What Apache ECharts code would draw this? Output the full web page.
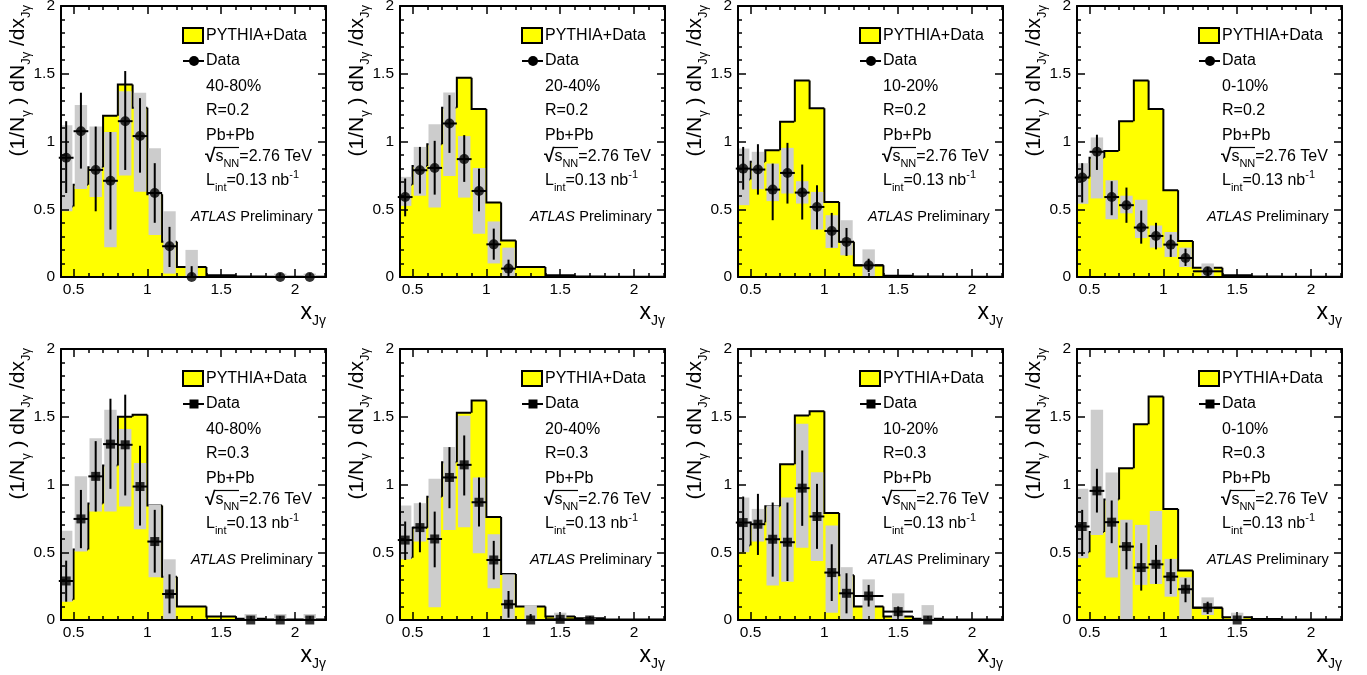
<!DOCTYPE html>
<html><head><meta charset="utf-8">
<script src="https://cdn.jsdelivr.net/npm/echarts@6/dist/echarts.min.js"></script>
<style>html,body{margin:0;padding:0;background:#fff}#c{width:1367px;height:675px}</style>
</head><body><div id="c"></div>
<script>
// ---------------- data ----------------
const edges = [0.4,0.5,0.6,0.7,0.8,0.9,1.0,1.1,1.2,1.4,1.6,1.8,2.0,2.2];
const xMajorTicks = [0.5,1,1.5,2];
const xMinorTicks = [0.5,0.6,0.7,0.8,0.9,1.0,1.1,1.2,1.3,1.4,1.5,1.6,1.7,1.8,1.9,2.0,2.1,2.2];
const centralities = ['40-80%','20-40%','10-20%','0-10%','40-80%','20-40%','10-20%','0-10%'];
const radii = ['0.2','0.2','0.2','0.2','0.3','0.3','0.3','0.3'];

// PYTHIA+Data histograms (per bin of edges)
const p1Hist = [0.52,0.68,0.81,1.19,1.42,1.25,0.61,0.26,0.074,0.012,0.004,0.002,0.002];
const p2Hist = [0.68,0.82,0.98,1.25,1.47,1.24,0.55,0.27,0.074,0.012,0.004,0.002,0.002];
const p3Hist = [0.72,0.85,0.935,1.145,1.45,1.245,0.554,0.26,0.086,0.01,0.004,0.002,0.002];
const p4Hist = [0.74,0.88,0.93,1.15,1.45,1.24,0.64,0.266,0.069,0.012,0.004,0.002,0.002];
const p5Hist = [0.15,0.52,0.86,1.14,1.50,1.515,0.845,0.32,0.10,0.025,0.01,0.004,0.004];
const p6Hist = [0.46,0.68,0.91,1.165,1.53,1.62,0.76,0.34,0.10,0.025,0.012,0.004,0.004];
const p7Hist = [0.55,0.72,0.84,1.15,1.51,1.54,0.79,0.33,0.10,0.025,0.01,0.004,0.004];
const p8Hist = [0.50,0.65,0.89,1.12,1.445,1.65,0.82,0.365,0.09,0.02,0.008,0.004,0.004];

// Data points
const p1X = [0.45,0.55,0.65,0.75,0.85,0.95,1.05,1.15,1.3,1.9,2.1];
const p1Y = [0.88,1.076,0.79,0.71,1.15,1.04,0.62,0.227,0,0,0];
const p1StatHi = [1.15,1.36,1.11,1.07,1.52,1.32,0.84,0.37,0.08,0,0];
const p1StatLo = [0.62,0.80,0.485,0.35,0.79,0.77,0.40,0.074,0,0,0];
const p1SysHi = [1.12,1.27,1.11,1.07,1.37,1.36,0.95,0.485,0.2,0.025,0.025];
const p1SysLo = [0.485,0.65,0.59,0.22,0.75,0.63,0.31,0.025,0,0,0];

const p2X = [0.45,0.55,0.65,0.75,0.85,0.95,1.05,1.15];
const p2Y = [0.59,0.788,0.805,1.133,0.87,0.635,0.241,0.062];
const p2StatHi = [0.727,0.96,1.005,1.342,1.047,0.80,0.357,0.128];
const p2StatLo = [0.448,0.616,0.608,0.916,0.702,0.485,0.128,0];
const p2SysHi = [0.739,0.96,1.128,1.362,1.04,0.805,0.41,0.217];
const p2SysLo = [0.525,0.60,0.512,0.746,0.586,0.32,0.10,0];

const p3X = [0.45,0.55,0.65,0.75,0.85,0.95,1.05,1.15,1.3];
const p3Y = [0.80,0.793,0.645,0.768,0.623,0.517,0.34,0.259,0.086];
const p3StatHi = [0.96,0.98,0.837,0.99,0.83,0.677,0.473,0.362,0.135];
const p3StatLo = [0.645,0.608,0.419,0.542,0.424,0.352,0.217,0.155,0.037];
const p3SysHi = [0.948,0.924,0.837,0.953,0.707,0.628,0.456,0.419,0.204];
const p3SysLo = [0.53,0.648,0.56,0.616,0.542,0.35,0.214,0.16,0.007];

const p4X = [0.45,0.55,0.65,0.75,0.85,0.95,1.05,1.15,1.3];
const p4Y = [0.734,0.924,0.59,0.53,0.365,0.303,0.239,0.14,0.042];
const p4StatHi = [0.84,1.05,0.707,0.66,0.49,0.40,0.313,0.209,0.074];
const p4StatLo = [0.55,0.79,0.456,0.40,0.246,0.204,0.148,0.081,0.01];
const p4SysHi = [0.84,1.03,0.714,0.60,0.57,0.38,0.332,0.217,0.10];
const p4SysLo = [0.54,0.58,0.426,0.47,0.288,0.217,0.148,0.074,0.005];

const p5X = [0.45,0.55,0.65,0.75,0.85,0.95,1.05,1.15,1.7,1.9,2.1];
const p5Y = [0.288,0.746,1.06,1.298,1.293,0.985,0.579,0.192,0,0,0];
const p5StatHi = [0.438,0.96,1.32,1.633,1.663,1.286,0.813,0.337,0,0,0];
const p5StatLo = [0.135,0.53,0.80,0.968,0.919,0.697,0.35,0.049,0,0,0];
const p5SysHi = [0.658,1.06,1.342,1.552,1.41,1.158,0.85,0.448,0.044,0.044,0.044];
const p5SysLo = [0.135,0.505,0.80,0.80,0.837,0.67,0.315,0.007,0,0,0];

const p6X = [0.45,0.55,0.65,0.75,0.85,0.95,1.05,1.15,1.3,1.5,1.7];
const p6Y = [0.59,0.682,0.598,1.052,1.145,0.869,0.443,0.116,0,0.005,0];
const p6StatHi = [0.727,0.867,0.80,1.276,1.362,1.052,0.584,0.214,0.044,0.02,0];
const p6StatLo = [0.443,0.50,0.389,0.825,0.919,0.69,0.30,0.017,0,0,0];
const p6SysHi = [0.845,0.862,1.042,1.276,1.507,1.052,0.633,0.337,0.11,0.054,0.01];
const p6SysLo = [0.448,0.579,0.094,0.665,0.685,0.493,0.234,0,0,0,0];

const p7X = [0.45,0.55,0.65,0.75,0.85,0.95,1.05,1.15,1.3,1.5,1.7];
const p7Y = [0.719,0.707,0.596,0.574,0.973,0.764,0.35,0.197,0.177,0.062,0];
const p7StatHi = [0.911,0.931,0.867,0.867,1.251,1.005,0.559,0.345,0.259,0.10,0];
const p7StatLo = [0.50,0.48,0.32,0.288,0.695,0.525,0.14,0.049,0.099,0.025,0];
const p7SysHi = [0.904,0.82,0.845,0.904,1.448,1.091,0.697,0.39,0.30,0.197,0.11];
const p7SysLo = [0.50,0.579,0.254,0.283,0.534,0.436,0.054,0,0,0,0];

const p8X = [0.45,0.55,0.65,0.75,0.85,0.95,1.05,1.15,1.3,1.5];
const p8Y = [0.69,0.953,0.722,0.542,0.387,0.411,0.32,0.227,0.091,0];
const p8StatHi = [0.813,1.116,0.882,0.719,0.567,0.554,0.451,0.308,0.135,0];
const p8StatLo = [0.473,0.793,0.567,0.374,0.217,0.266,0.192,0.131,0.044,0];
const p8SysHi = [0.968,1.552,1.089,0.739,0.702,0.805,0.451,0.315,0.167,0.054];
const p8SysLo = [0.456,0.628,0.313,0,0.259,0.266,0.172,0,0.037,0];

const panels = [
  {hist:p1Hist,x:p1X,y:p1Y,sHi:p1StatHi,sLo:p1StatLo,yHi:p1SysHi,yLo:p1SysLo,sym:'circle'},
  {hist:p2Hist,x:p2X,y:p2Y,sHi:p2StatHi,sLo:p2StatLo,yHi:p2SysHi,yLo:p2SysLo,sym:'circle'},
  {hist:p3Hist,x:p3X,y:p3Y,sHi:p3StatHi,sLo:p3StatLo,yHi:p3SysHi,yLo:p3SysLo,sym:'circle'},
  {hist:p4Hist,x:p4X,y:p4Y,sHi:p4StatHi,sLo:p4StatLo,yHi:p4SysHi,yLo:p4SysLo,sym:'circle'},
  {hist:p5Hist,x:p5X,y:p5Y,sHi:p5StatHi,sLo:p5StatLo,yHi:p5SysHi,yLo:p5SysLo,sym:'rect'},
  {hist:p6Hist,x:p6X,y:p6Y,sHi:p6StatHi,sLo:p6StatLo,yHi:p6SysHi,yLo:p6SysLo,sym:'rect'},
  {hist:p7Hist,x:p7X,y:p7Y,sHi:p7StatHi,sLo:p7StatLo,yHi:p7SysHi,yLo:p7SysLo,sym:'rect'},
  {hist:p8Hist,x:p8X,y:p8Y,sHi:p8StatHi,sLo:p8StatLo,yHi:p8SysHi,yLo:p8SysLo,sym:'rect'}
];

// ---------------- layout / style ----------------
const FONT = "'Liberation Sans', Arial, Helvetica, sans-serif";
const GRID_LEFT = [61, 400, 738, 1077];
const GRID_TOP = [6, 349];
const GRID_W = 265, GRID_H = 271;
const X_MIN = 0.415, X_MAX = 2.21;
const YELLOW = '#ffff00', GRAY = '#cccccc';
const BOX_HALF = 0.042;

function binHalfWidth(x) {
  for (let i = 0; i < edges.length - 1; i++) {
    if (x >= edges[i] && x < edges[i+1]) return (edges[i+1] - edges[i]) / 2;
  }
  return 0.1;
}

const grids = [], xAxes = [], yAxes = [], series = [], graphics = [];

function xAxisDef(g, pos, ticks, len, showLine, showLabel) {
  return {
    gridIndex: g, type: 'value', min: X_MIN, max: X_MAX, position: pos, z: 10,
    axisLine: {show: showLine, onZero: false, lineStyle: {color: '#000', width: 2}},
    axisTick: {show: true, inside: true, length: len, customValues: ticks, lineStyle: {color: '#000', width: 1.5}},
    axisLabel: {show: showLabel, customValues: xMajorTicks, margin: 5, color: '#000', fontSize: 15.5, fontFamily: FONT},
    splitLine: {show: false}, minorTick: {show: false}
  };
}
function yAxisDef(g, pos, showLabel) {
  return {
    gridIndex: g, type: 'value', min: 0, max: 2, interval: 0.5, position: pos, z: 10,
    axisLine: {show: true, onZero: false, lineStyle: {color: '#000', width: 2}},
    axisTick: {show: true, inside: true, length: 8, lineStyle: {color: '#000', width: 1.5}},
    minorTick: {show: true, splitNumber: 5, length: 4, lineStyle: {color: '#000', width: 1.5}},
    axisLabel: {show: showLabel, margin: 6, color: '#000', fontSize: 15.5, fontFamily: FONT},
    splitLine: {show: false}, minorSplitLine: {show: false}
  };
}

const richBase = {
  t:   {fontSize: 16, fontFamily: FONT, fill: '#000', lineHeight: 24, verticalAlign: 'middle'},
  at:  {fontSize: 14.5, fontFamily: FONT, fill: '#000', lineHeight: 24, verticalAlign: 'middle'},
  it:  {fontSize: 14.5, fontFamily: FONT, fill: '#000', lineHeight: 24, verticalAlign: 'middle', fontStyle: 'italic'},
  sq:  {fontSize: 19, fontFamily: FONT, fill: '#000', lineHeight: 24, verticalAlign: 'middle', fontWeight: 'bold'},
  sub: {fontSize: 11, fontFamily: FONT, fill: '#000', lineHeight: 11, verticalAlign: 'bottom'},
  sup: {fontSize: 11, fontFamily: FONT, fill: '#000', lineHeight: 11, verticalAlign: 'top'}
};
const richYTitle = {
  t:   {fontSize: 21, fontFamily: FONT, fill: '#000', lineHeight: 30, verticalAlign: 'middle'},
  sub: {fontSize: 13, fontFamily: FONT, fill: '#000', lineHeight: 13, verticalAlign: 'bottom'}
};
const richXTitle = {
  t:   {fontSize: 23, fontFamily: FONT, fill: '#000', lineHeight: 30, verticalAlign: 'middle'},
  sub: {fontSize: 14, fontFamily: FONT, fill: '#000', lineHeight: 14, verticalAlign: 'bottom'}
};
function text(x, y, str, rich, align) {
  return {type: 'text', x: x, y: y, silent: true, z: 100,
    style: {text: str, rich: rich, align: align || 'left', verticalAlign: 'middle', fill: '#000', fontFamily: FONT, fontSize: 16}};
}

panels.forEach((p, g) => {
  const col = g % 4, row = Math.floor(g / 4);
  const L = GRID_LEFT[col], T = GRID_TOP[row];
  grids.push({left: L, top: T, width: GRID_W, height: GRID_H, containLabel: false, outerBoundsMode: 'none'});
  xAxes.push(xAxisDef(g, 'bottom', xMajorTicks, 8, true, true));
  xAxes.push(xAxisDef(g, 'bottom', xMinorTicks, 4, false, false));
  xAxes.push(xAxisDef(g, 'top', xMajorTicks, 8, true, false));
  xAxes.push(xAxisDef(g, 'top', xMinorTicks, 4, false, false));
  yAxes.push(yAxisDef(g, 'left', true));
  yAxes.push(yAxisDef(g, 'right', false));
  const xi = 4 * g, yi = 2 * g;

  // histogram
  series.push({
    type: 'custom', name: 'PYTHIA+Data', xAxisIndex: xi, yAxisIndex: yi, clip: true, z: 2,
    data: p.hist.map((h, i) => [edges[i], edges[i+1], h, i > 0 ? p.hist[i-1] : 0]),
    renderItem: (params, api) => {
      const lo = api.value(0), hi = api.value(1), h = api.value(2), hp = api.value(3);
      const a = api.coord([lo, 0]), b = api.coord([hi, h]), c = api.coord([lo, hp]);
      return {type: 'group', children: [
        {type: 'rect', shape: {x: a[0] - 0.5, y: b[1], width: b[0] - a[0] + 1, height: a[1] - b[1]}, style: {fill: YELLOW}},
        {type: 'polyline', shape: {points: [c, [a[0], b[1]], b]}, style: {stroke: '#000', lineWidth: 2, fill: null}}
      ]};
    }
  });
  // systematic boxes
  series.push({
    type: 'custom', name: 'sys', xAxisIndex: xi, yAxisIndex: yi, clip: true, z: 3,
    data: p.x.map((x, i) => [x, p.yLo[i], p.yHi[i]]),
    renderItem: (params, api) => {
      const x = api.value(0), lo = api.value(1), hi = api.value(2);
      const a = api.coord([x - BOX_HALF, hi]), b = api.coord([x + BOX_HALF, lo]);
      return {type: 'rect', shape: {x: a[0], y: a[1], width: b[0] - a[0], height: b[1] - a[1]}, style: {fill: GRAY}};
    }
  });
  // error bars
  series.push({
    type: 'custom', name: 'stat', xAxisIndex: xi, yAxisIndex: yi, clip: false, z: 4,
    data: p.x.map((x, i) => [x, p.y[i], p.sLo[i], p.sHi[i], binHalfWidth(x)]),
    renderItem: (params, api) => {
      const x = api.value(0), y = api.value(1), lo = api.value(2), hi = api.value(3), xe = api.value(4);
      const v1 = api.coord([x, lo]), v2 = api.coord([x, hi]);
      const h1 = api.coord([x - xe, y]), h2 = api.coord([x + xe, y]);
      const st = {stroke: '#000', lineWidth: 2};
      const ch = [{type: 'line', shape: {x1: h1[0], y1: h1[1], x2: h2[0], y2: h2[1]}, style: st}];
      if (hi > lo) ch.push({type: 'line', shape: {x1: v1[0], y1: v1[1], x2: v2[0], y2: v2[1]}, style: st});
      return {type: 'group', children: ch};
    }
  });
  // points
  series.push({
    type: 'scatter', name: 'Data', xAxisIndex: xi, yAxisIndex: yi, clip: false, z: 5,
    symbol: p.sym, symbolSize: p.sym === 'circle' ? 10 : 9,
    itemStyle: {color: '#000'},
    data: p.x.map((x, i) => [x, p.y[i]])
  });

  // ---- annotations ----
  const tx = L + 145;
  graphics.push({type: 'rect', silent: true, z: 100, shape: {x: L + 122, y: T + 22, width: 20, height: 15},
    style: {fill: YELLOW, stroke: '#000', lineWidth: 2}});
  graphics.push(text(tx, T + 30, '{t|PYTHIA+Data}', richBase));
  graphics.push({type: 'line', silent: true, z: 100, shape: {x1: L + 122, y1: T + 55, x2: L + 143, y2: T + 55},
    style: {stroke: '#000', lineWidth: 2}});
  if (p.sym === 'circle') {
    graphics.push({type: 'circle', silent: true, z: 101, shape: {cx: L + 133, cy: T + 55, r: 5}, style: {fill: '#000'}});
  } else {
    graphics.push({type: 'rect', silent: true, z: 101, shape: {x: L + 128.5, y: T + 50.5, width: 9, height: 9}, style: {fill: '#000'}});
  }
  graphics.push(text(tx, T + 55, '{t|Data}', richBase));
  graphics.push(text(tx, T + 81, '{t|' + centralities[g] + '}', richBase));
  graphics.push(text(tx, T + 105, '{t|R=' + radii[g] + '}', richBase));
  graphics.push(text(tx, T + 130, '{t|Pb+Pb}', richBase));
  graphics.push(text(tx - 1, T + 151, '{sq|√}{t|s}{sub|NN}{t|=2.76 TeV}', richBase));
  graphics.push({type: 'line', silent: true, z: 100, shape: {x1: tx + 8, y1: T + 141.5, x2: tx + 33, y2: T + 141.5},
    style: {stroke: '#000', lineWidth: 1.2}});
  graphics.push(text(tx, T + 175, '{t|L}{sub|int}{t|=0.13 nb}{sup|-1}', richBase));
  graphics.push(text(L + 130, T + 211, '{it|ATLAS} {at|Preliminary}', richBase));
  // axis titles
  graphics.push(text(L + GRID_W, T + 307, '{t|x}{sub|Jγ}', richXTitle, 'right'));
  graphics.push({type: 'text', x: L - 43, y: T - 1, rotation: Math.PI / 2, silent: true, z: 100,
    style: {text: '{t|(1/N}{sub|γ}{t| ) dN}{sub|Jγ}{t| /dx}{sub|Jγ}', rich: richYTitle, align: 'right', verticalAlign: 'middle',
      fill: '#000', fontFamily: FONT, fontSize: 21}});
});

const chart = echarts.init(document.getElementById('c'), null, {renderer: 'canvas'});
chart.setOption({
  animation: false,
  backgroundColor: '#fff',
  grid: grids, xAxis: xAxes, yAxis: yAxes, series: series,
  graphic: {elements: graphics}
});
</script></body></html>
